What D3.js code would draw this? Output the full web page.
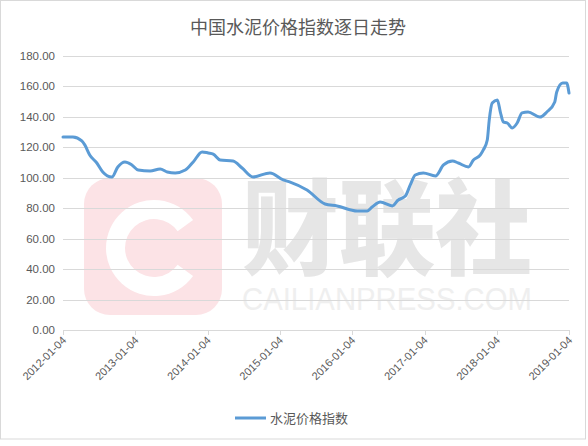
<!DOCTYPE html>
<html lang="zh">
<head>
<meta charset="utf-8">
<title>中国水泥价格指数逐日走势</title>
<script src="https://d3js.org/d3.v7.min.js"></script>
<style>
  body { margin: 0; background: #fff; }
  text { font-family: "Liberation Sans", "Noto Sans CJK SC", sans-serif; fill: #595959; }
</style>
</head>
<body>
<div id="chart"></div>
<script>
// series
var dates = ["2012-01-04","2012-02-23","2012-04-08","2012-04-23","2012-05-18","2012-06-23","2012-07-23",
  "2012-09-07","2012-10-07","2012-11-12","2012-12-17","2013-01-18","2013-03-19","2013-05-09","2013-06-14",
  "2013-07-24","2013-09-13","2013-10-23","2013-12-07","2014-01-07","2014-02-01","2014-03-08","2014-05-12",
  "2014-06-27","2014-08-21","2014-11-15","2015-01-21","2015-02-25","2015-05-21","2015-08-20","2015-10-20",
  "2016-01-30","2016-03-20","2016-04-14","2016-05-25","2016-07-25","2016-08-24","2016-09-29","2016-10-24",
  "2016-11-18","2016-12-29","2017-02-28","2017-04-10","2017-05-25","2017-06-24","2017-08-14","2017-09-08",
  "2017-10-13","2017-10-28","2017-11-17","2017-11-27","2017-12-12","2018-01-07","2018-01-22","2018-02-06",
  "2018-02-26","2018-03-23","2018-04-17","2018-05-12","2018-06-11","2018-08-10","2018-09-14","2018-10-24",
  "2018-11-03","2018-12-03","2018-12-23","2019-01-04"];
var values = [126.8,126.8,124.2,121.6,115.0,109.7,103.8,
  100.5,107.1,110.4,108.4,105.1,104.5,105.8,103.8,
  103.2,105.1,110.4,117.0,116.3,115.6,111.7,111.0,
  106.4,100.5,103.2,98.6,97.2,92.0,82.8,81.5,
  78.2,78.2,80.8,84.1,81.5,85.4,88.0,95.3,
  101.8,103.2,101.2,108.4,111.0,109.7,107.1,111.7,
  115.0,118.3,124.8,138.0,149.1,151.1,143.2,136.7,
  136.0,132.7,136.0,142.6,143.2,139.9,143.2,149.8,
  156.4,162.3,162.3,155.7];
var tickDates = ["2012-01-04","2013-01-04","2014-01-04","2015-01-04","2016-01-04","2017-01-04","2018-01-04","2019-01-04"];
var yTicks = [0,20,40,60,80,100,120,140,160,180];
var title = "中国水泥价格指数逐日走势";
var seriesName = "水泥价格指数";

var w = 588, h = 446;
var parse = d3.timeParse("%Y-%m-%d");
var fmt = d3.timeFormat("%Y-%m-%d");

var svg = d3.select("#chart").append("svg")
  .attr("width", w).attr("height", h);

// chart frame
svg.append("rect")
  .attr("x", 0.5).attr("y", 0.5).attr("width", 585).attr("height", 438.5)
  .attr("fill", "#fff").attr("stroke", "#d9d9d9");

var x = d3.scaleTime()
  .domain([parse(tickDates[0]), parse(tickDates[tickDates.length - 1])])
  .range([63, 569]);
var y = d3.scaleLinear().domain([0, 180]).range([330, 56]);

// watermark
var wm = svg.append("g").attr("id", "watermark");
wm.append("rect")
  .attr("x", 84).attr("y", 178).attr("width", 138).attr("height", 137).attr("rx", 26)
  .attr("fill", "#fce3e6");
wm.append("path")
  .attr("transform", "translate(154,248)")
  .attr("d", d3.arc().innerRadius(29).outerRadius(48)
    .startAngle(Math.PI / 2 + 0.62).endAngle(Math.PI / 2 - 0.62 + 2 * Math.PI)())
  .attr("fill", "#fff");
wm.append("text").text("财联社")
  .attr("x", 242).attr("y", 267)
  .attr("textLength", 290).attr("lengthAdjust", "spacingAndGlyphs")
  .style("font-family", "Noto Sans CJK SC").style("font-weight", 900)
  .style("font-size", "104px").style("fill", "#e6e6e6");
wm.append("text").text("CAILIANPRESS.COM")
  .attr("x", 242).attr("y", 310)
  .attr("textLength", 290).attr("lengthAdjust", "spacingAndGlyphs")
  .style("font-family", "Liberation Sans")
  .style("font-size", "32px").style("fill", "#efefef");

// gridlines + y labels
var yAxis = svg.append("g").attr("class", "y-axis");
yAxis.selectAll("line").data(yTicks).enter().append("line")
  .attr("x1", 63).attr("x2", 569)
  .attr("y1", function(d) { return Math.round(y(d)) + 0.5; })
  .attr("y2", function(d) { return Math.round(y(d)) + 0.5; })
  .attr("stroke", "#d9d9d9");
yAxis.selectAll("text").data(yTicks).enter().append("text")
  .text(function(d) { return d.toFixed(2); })
  .attr("x", 55).attr("y", function(d) { return y(d); })
  .attr("dy", "0.35em").attr("text-anchor", "end")
  .style("font-size", "11.5px");

// x axis ticks + rotated labels
var xAxis = svg.append("g").attr("class", "x-axis");
xAxis.selectAll("line").data(tickDates).enter().append("line")
  .attr("x1", function(d) { return Math.round(x(parse(d))) + 0.5; })
  .attr("x2", function(d) { return Math.round(x(parse(d))) + 0.5; })
  .attr("y1", 330).attr("y2", 335)
  .attr("stroke", "#d9d9d9");
xAxis.selectAll("text").data(tickDates).enter().append("text")
  .text(function(d) { return fmt(parse(d)); })
  .attr("transform", function(d) { return "translate(" + (x(parse(d)) + 4) + ",341) rotate(-45)"; })
  .attr("text-anchor", "end")
  .style("font-size", "11px");

// the series
var data = dates.map(function(d, i) { return { date: parse(d), value: values[i] }; });
var line = d3.line()
  .x(function(d) { return x(d.date); })
  .y(function(d) { return y(d.value); })
  .curve(d3.curveMonotoneX);
svg.append("path")
  .datum(data)
  .attr("d", line)
  .attr("fill", "none")
  .attr("stroke", "#5b9bd5")
  .attr("stroke-width", 3)
  .attr("stroke-linejoin", "round")
  .attr("stroke-linecap", "round");

// title
svg.append("text").text(title)
  .attr("x", 298).attr("y", 34)
  .attr("text-anchor", "middle")
  .style("font-family", "Noto Sans CJK SC")
  .style("font-size", "18px");

// legend
var legend = svg.append("g").attr("class", "legend");
legend.append("line")
  .attr("x1", 235).attr("x2", 266).attr("y1", 418).attr("y2", 418)
  .attr("stroke", "#5b9bd5").attr("stroke-width", 3);
legend.append("text").text(seriesName)
  .attr("x", 270).attr("y", 418).attr("dy", "0.35em")
  .style("font-family", "Noto Sans CJK SC")
  .style("font-size", "13px");
</script>
</body>
</html>
